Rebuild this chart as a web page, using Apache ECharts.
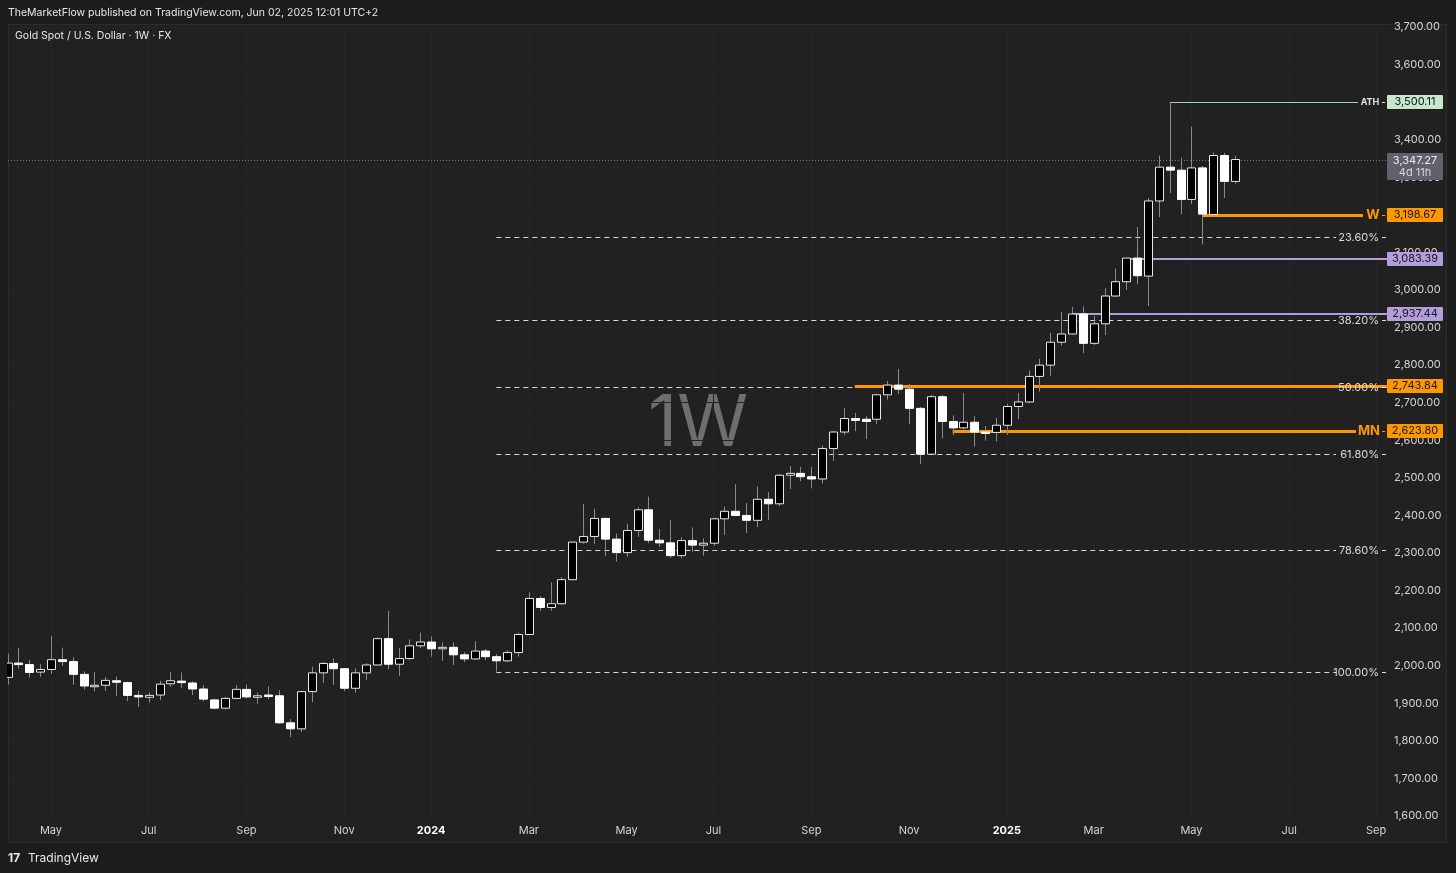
<!DOCTYPE html>
<html><head><meta charset="utf-8">
<script src="https://cdn.jsdelivr.net/npm/echarts@6/dist/echarts.min.js"></script>
<style>html,body{margin:0;padding:0;background:#1c1c1c;}#c{width:1456px;height:873px;}</style>
</head><body><div id="c"></div>
<script>
// ---------- DATA (weekly XAUUSD, first week = 2023-04-03) ----------
const firstWeek = '2023-04-03';
const weekCount = 128; // includes empty future weeks up to Sep 2025
const open = [1969,2007,2003,1983,1990,2016,2011,1977,1946,1948,1960,1955,1921,1916,1922,1952,1959,1954,1938,1909,
  1887,1913,1937,1917,1922,1920,1848,1832,1931,1981,2006,1992,1940,1981,2002,2072,2004,2019,2053,2063,
  2045,2049,2029,2018,2039,2024,2013,2035,2083,2179,2155,2165,2229,2329,2344,2392,2337,2301,2360,2415,
  2334,2327,2293,2333,2321,2326,2391,2411,2400,2387,2443,2431,2507,2512,2503,2497,2578,2622,2658,2656,
  2656,2721,2747,2736,2685,2563,2716,2650,2633,2648,2622,2621,2640,2690,2702,2770,2800,2861,2883,2936,
  2858,2910,2984,3022,3085,3037,3237,3327,3319,3241,3325,3201,3358,3289];
const high = [2032,2048,2015,2004,2079,2048,2022,1985,1983,1970,1971,1958,1933,1929,1960,1983,1982,1958,1948,1912,
  1917,1948,1950,1929,1945,1935,1858,1933,1997,2009,2019,1993,1993,2007,2075,2146,2047,2070,2088,2078,
  2062,2062,2036,2065,2044,2031,2041,2088,2195,2185,2222,2236,2330,2431,2418,2394,2352,2378,2422,2450,
  2364,2388,2342,2368,2339,2392,2424,2483,2433,2477,2462,2510,2531,2529,2529,2586,2625,2686,2673,2665,
  2722,2758,2790,2750,2689,2721,2721,2666,2726,2664,2638,2660,2697,2726,2786,2817,2886,2942,2955,2956,
  2930,3005,3057,3086,3168,3245,3358,3500.11,3352,3435,3330,3366,3365,3357];
const low = [1950,1992,1969,1970,1978,1999,1949,1937,1932,1933,1919,1906,1890,1902,1909,1944,1940,1922,1905,1884,
  1884,1911,1912,1899,1911,1846,1810,1824,1903,1954,1949,1932,1928,1962,2001,1991,1973,2016,2047,2024,
  2013,2002,2010,2017,2015,1984.3,2010,2024,2083,2146,2146,2163,2228,2325,2324,2291,2277,2290,2343,2326,
  2316,2287,2286,2303,2293,2319,2348,2398,2353,2369,2388,2425,2470,2491,2472,2485,2545,2614,2624,2603,
  2643,2708,2723,2643,2537,2563,2605,2613,2629,2583,2599,2597,2614,2656,2699,2730,2772,2852,2882,2832,
  2853,2880,2982,3000,3015,2957,3194,3258,3202,3229,3121,3198,3245,3283];
const close = [2007,2004,1982,1990,2016,2011,1977,1946,1948,1961,1957,1921,1919,1921,1951,1960,1957,1938,1911,1887,
  1913,1937,1917,1920,1920,1848,1832,1931,1981,2006,1992,1940,1981,2002,2072,2004,2019,2053,2063,2045,
  2049,2029,2018,2039,2024,2013,2035,2083,2179,2155,2165,2229,2329,2344,2392,2337,2301,2360,2415,2334,
  2327,2293,2333,2321,2326,2391,2411,2400,2387,2443,2431,2507,2512,2503,2497,2578,2622,2658,2653,2650,
  2721,2747,2736,2685,2563,2716,2650,2633,2648,2622,2621,2640,2690,2702,2770,2800,2861,2883,2936,2858,
  2910,2984,3022,3085,3038,3237,3327,3319,3241,3325,3202,3358,3289,3347.27];

const tickWeeks = ['2023-05-01','2023-07-03','2023-09-04','2023-11-06','2024-01-01','2024-03-04','2024-05-06',
  '2024-07-01','2024-09-02','2024-11-04','2025-01-06','2025-03-03','2025-05-05','2025-07-07','2025-09-01'];
const tickLabels = ['May','Jul','Sep','Nov','2024','Mar','May','Jul','Sep','Nov','2025','Mar','May','Jul','Sep'];

const priceMin = 1600, priceMax = 3700, priceStep = 100;

const fibHigh = 3500.11, fibLow = 1984.30;
const fibRatios = [0.236, 0.382, 0.5, 0.618, 0.786, 1.0];
const fibLabels = ['23.60%','38.20%','50.00%','61.80%','78.60%','100.00%'];
const fibStartWeek = '2024-02-12';

const levelPrices = [3500.11, 3198.67, 3083.39, 2937.44, 2743.84, 2623.80];
const levelStartWeeks = ['2025-04-21','2025-05-12','2025-03-24','2025-02-17','2024-09-30','2024-12-02'];
const levelTags = ['ATH','W','','','','MN'];

const lastPrice = 3347.27;
const lastCountdown = '4d 11h';

// ---------- STYLE ----------
const levelLineColors = ['#a5d6a7','#ff9800','#b39ddb','#b39ddb','#ff9800','#ff9800'];
const levelBoxColors  = ['#c8e6c9','#ff9800','#b39ddb','#b39ddb','#ff9800','#ff9800'];
const levelWidths = [1,3,2,2,3,3];
const levelEndX = [1358,1363,1387,1387,1387,1356];
const levelTagStyle = [
  {x:1370, font:'bold 9px Inter', color:'#e0e0e0'},
  {x:1373, font:'bold 13px Inter', color:'#ff9800'},
  null, null, null,
  {x:1369, font:'bold 13px Inter', color:'#ff9800'}
];
const FONT = 'Inter, "Noto Sans", sans-serif';

// ---------- helpers ----------
function fmtDate(d){return d.toISOString().slice(0,10);}
const weeks = [];
{ let d = new Date(firstWeek+'T00:00:00Z'); for (let i=0;i<weekCount;i++){ weeks.push(fmtDate(d)); d = new Date(d.getTime()+7*86400000);} }
const idxOf = w => weeks.indexOf(w);
const fmtPrice = v => v.toLocaleString('en-US',{minimumFractionDigits:2, maximumFractionDigits:2});
const isTick = (idx, val) => tickWeeks.indexOf(val) >= 0;

const candleData = open.map((o,i)=>[i,o,close[i],low[i],high[i]]);
const fibPrices = fibRatios.map(r => fibHigh - r*(fibHigh-fibLow));
const fibData = fibPrices.map(p => [idxOf(fibStartWeek), p]);
const levelData = levelPrices.map((p,i)=>[idxOf(levelStartWeeks[i]), p]);

function renderCandle(params, api){
  const i=api.value(0), o=api.value(1), c=api.value(2), l=api.value(3), h=api.value(4);
  const pO=api.coord([i,o]), pC=api.coord([i,c]), pL=api.coord([i,l]), pH=api.coord([i,h]);
  const x = Math.round(pO[0]) + 0.5;
  const bw = 8;
  const up = c >= o;
  const top = Math.min(pO[1],pC[1]), bot = Math.max(pO[1],pC[1]);
  const bh = Math.max(bot-top, 1.5);
  return {type:'group', children:[
    {type:'line', shape:{x1:x,y1:pH[1],x2:x,y2:pL[1]}, style:{stroke:'#8a8a8a', lineWidth:1}},
    {type:'rect', shape:{x:x-bw/2, y:top, width:bw, height:bh},
      style:{fill: up?'#000000':'#ffffff', stroke: up?'#e8e8e8':'#ffffff', lineWidth:1}}
  ]};
}

function renderFibLine(params, api){
  const p = api.coord([api.value(0), api.value(1)]);
  const y = Math.round(p[1]) + 0.5;
  return {type:'line', shape:{x1:p[0], y1:y, x2:1336, y2:y},
    style:{stroke:'#d8d8d8', lineWidth:1, lineDash:[5,4]}};
}
function renderFibLabel(params, api){
  const p = api.coord([api.value(0), api.value(1)]);
  const y = Math.round(p[1]) + 0.5;
  return {type:'group', children:[
    {type:'text', style:{text: fibLabels[params.dataIndex], x:1379, y:y, align:'right', verticalAlign:'middle',
      fill:'#dcdcdc', font:'11px '+FONT}},
    {type:'line', shape:{x1:1382,y1:y,x2:1386,y2:y}, style:{stroke:'#dcdcdc', lineWidth:1}}
  ]};
}
function renderLevel(params, api){
  const k = params.dataIndex;
  const p = api.coord([api.value(0), api.value(1)]);
  const w = levelWidths[k];
  const y = (w % 2) ? Math.round(p[1]) + 0.5 : Math.round(p[1]);
  const ch = [
    {type:'line', shape:{x1:p[0], y1:y, x2:levelEndX[k], y2:y}, style:{stroke:levelLineColors[k], lineWidth:w}}
  ];
  const ts = levelTagStyle[k];
  if (ts){
    ch.push({type:'text', style:{text: levelTags[k], x: ts.x, y: y, align:'center', verticalAlign:'middle',
      fill: ts.color, font: ts.font.replace('Inter', FONT)}});
    ch.push({type:'line', shape:{x1:1382,y1:y,x2:1385,y2:y}, style:{stroke: ts.color, lineWidth:1}});
  }
  ch.push({type:'rect', shape:{x:1387, y:Math.round(p[1])-7, width:56, height:14, r:1},
    style:{fill: levelBoxColors[k]}});
  ch.push({type:'text', style:{text: fmtPrice(api.value(1)), x:1415, y:Math.round(p[1]), align:'center',
    verticalAlign:'middle', fill:'#131722', font:'11px '+FONT}});
  return {type:'group', children: ch};
}
function renderLast(params, api){
  const p = api.coord([0, api.value(1)]);
  const y = Math.round(p[1]) + 0.5;
  return {type:'group', children:[
    {type:'line', shape:{x1:8, y1:y, x2:1386, y2:y}, style:{stroke:'#7a7a7a', lineWidth:1, lineDash:[1,2]}},
    {type:'rect', shape:{x:1387, y:y-7.5, width:56, height:27, r:1}, style:{fill:'#5f626b'}},
    {type:'text', style:{text: fmtPrice(api.value(1)), x:1415, y:y, align:'center', verticalAlign:'middle',
      fill:'#eeeeee', font:'11px '+FONT}},
    {type:'text', style:{text: lastCountdown, x:1415, y:y+12, align:'center', verticalAlign:'middle',
      fill:'#d8d8d8', font:'11px '+FONT}}
  ]};
}

const chart = echarts.init(document.getElementById('c'), null, {renderer:'canvas'});
chart.setOption({
  backgroundColor:'#1c1c1c',
  animation:false,
  grid:{left:7.5, right:69, top:27, bottom:57, containLabel:false},
  xAxis:{
    type:'category', data: weeks, boundaryGap:false,
    axisLine:{show:false}, axisTick:{show:false},
    axisLabel:{interval:isTick, margin:9, color:'#d4d4d4', fontFamily:FONT, fontSize:11,
      formatter:(v)=>{const k=tickWeeks.indexOf(v); if(k<0) return ''; const t=tickLabels[k];
        return /^\d{4}$/.test(t) ? '{y|'+t+'}' : t;},
      rich:{y:{fontWeight:'bold', color:'#ffffff', fontFamily:FONT, fontSize:11}}},
    splitLine:{show:true, interval:isTick, lineStyle:{color:'#262626', width:1}}
  },
  yAxis:{
    type:'value', position:'right', min:priceMin, max:priceMax, interval:priceStep, scale:true,
    axisLine:{show:false}, axisTick:{show:false},
    splitLine:{show:true, lineStyle:{color:'#242424'}},
    axisLabel:{margin:7, color:'#d4d4d4', fontFamily:FONT, fontSize:11, formatter:fmtPrice}
  },
  graphic:{elements:[
    {type:'rect', z:-10, shape:{x:8.5, y:24.5, width:1438, height:818}, style:{fill:'#212121', stroke:'#2c2c2c', lineWidth:1}},
    {type:'text', z:100, style:{text:'TheMarketFlow published on TradingView.com, Jun 02, 2025 12:01 UTC+2', x:8, y:13,
      verticalAlign:'middle', fill:'#e8e8e8', font:'10.5px '+FONT}},
    {type:'text', z:100, style:{text:'Gold Spot / U.S. Dollar · 1W · FX', x:15, y:36, verticalAlign:'middle',
      fill:'#e8e8e8', font:'10.5px '+FONT}},
    {type:'text', z:-5, style:{text:'1W', x:698, y:424, align:'center', verticalAlign:'middle',
      fill:'#6e6e6e', font:'72px '+FONT}},
    {type:'text', z:100, style:{text:'17', x:8, y:858, verticalAlign:'middle', fill:'#e8e8e8', font:'bold 12px '+FONT}},
    {type:'text', z:100, style:{text:'TradingView', x:28, y:858, verticalAlign:'middle', fill:'#e8e8e8', font:'12px '+FONT}}
  ]},
  series:[
    {type:'custom', name:'fibLines', z:1, data:fibData, encode:{x:0,y:1}, renderItem:renderFibLine, clip:false, silent:true},
    {type:'custom', name:'levels', z:2, data:levelData, encode:{x:0,y:1}, renderItem:renderLevel, clip:false, silent:true},
    {type:'custom', name:'last', z:2, data:[[0,lastPrice]], encode:{x:0,y:1}, renderItem:renderLast, clip:false, silent:true},
    {type:'custom', name:'candles', z:3, data:candleData, encode:{x:0,y:[1,2,3,4]}, renderItem:renderCandle, clip:true},
    {type:'custom', name:'fibLabels', z:4, data:fibData, encode:{x:0,y:1}, renderItem:renderFibLabel, clip:false, silent:true}
  ]
});
</script></body></html>
